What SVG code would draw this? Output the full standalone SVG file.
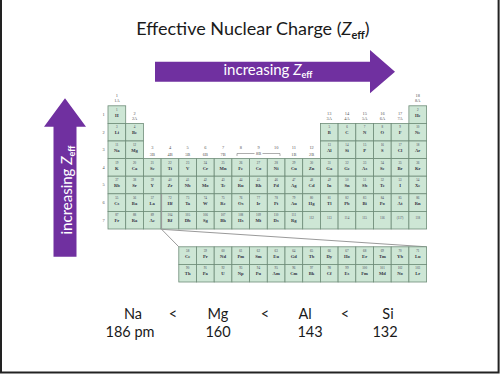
<svg xmlns="http://www.w3.org/2000/svg" xmlns:xlink="http://www.w3.org/1999/xlink" width="500" height="379" viewBox="0 0 500 379">
<style>
.c{fill:#cde6d5;stroke:#6e8c78;stroke-width:0.8}
.n{font-family:"Liberation Serif",serif;font-size:3.2px;fill:#445;text-anchor:middle}
.s{font-family:"Liberation Serif",serif;font-size:4.6px;font-weight:bold;fill:#334;text-anchor:middle}
.g{font-family:"Liberation Serif",serif;font-size:4.4px;fill:#555;text-anchor:middle}
.t{font-family:Lato,"Liberation Sans",sans-serif;fill:#1a1a1a}
.w{font-family:Lato,"Liberation Sans",sans-serif;fill:#ffffff;font-size:15px}
.arrow{fill:#7030a0}
.conn{fill:none;stroke:#9a9a9a;stroke-width:1}
</style>
<defs>
<rect id="c" class="c" width="17.7" height="17.6"/>
</defs>
<rect width="500" height="379" fill="#ffffff"/>
<path d="M1,0 V372.5 H498.6 V0" fill="none" stroke="#222" stroke-width="2"/>

<g id="title">
<text class="t" x="253" y="35" font-size="18" text-anchor="middle">Effective Nuclear Charge (<tspan font-style="italic">Z</tspan><tspan font-size="11" font-weight="bold" dy="4">eff</tspan><tspan dy="-4">)</tspan></text>
</g>

<g id="arrow-period">
<path class="arrow" d="M155,61.7 H370 V50 L395,71.7 L370,93.3 V81.7 H155 Z"/>
<text class="w" x="268" y="75" text-anchor="middle">increasing <tspan font-style="italic">Z</tspan><tspan font-size="9" font-weight="bold" dy="3">eff</tspan></text>
</g>

<g id="arrow-group">
<path class="arrow" d="M65,98.3 L86,126.7 H76.5 V256.7 H53.5 V126.7 H44 Z"/>
<text class="w" transform="translate(71.5,190) rotate(-90)" text-anchor="middle">increasing <tspan font-style="italic">Z</tspan><tspan font-size="9" font-weight="bold" dy="3">eff</tspan></text>
</g>

<g id="labels">
<text class="g" x="116.9" y="97">1</text><text class="g" x="116.9" y="102">1A</text>
<text class="g" x="134.6" y="114.5">2</text><text class="g" x="134.6" y="119.5">2A</text>
<text class="g" x="152.3" y="149">3</text><text class="g" x="152.3" y="155.5">3B</text>
<text class="g" x="170" y="149">4</text><text class="g" x="170" y="155.5">4B</text>
<text class="g" x="187.7" y="149">5</text><text class="g" x="187.7" y="155.5">5B</text>
<text class="g" x="205.4" y="149">6</text><text class="g" x="205.4" y="155.5">6B</text>
<text class="g" x="223.1" y="149">7</text><text class="g" x="223.1" y="155.5">7B</text>
<text class="g" x="240.8" y="149">8</text><text class="g" x="258.5" y="149">9</text><text class="g" x="276.2" y="149">10</text>
<path d="M237,156 V153.5 H254.5 M262.5,153.5 H280 V156" fill="none" stroke="#777" stroke-width="0.6"/>
<text class="g" x="258.5" y="155.2">8B</text>
<text class="g" x="293.9" y="149">11</text><text class="g" x="293.9" y="155.5">1B</text>
<text class="g" x="311.6" y="149">12</text><text class="g" x="311.6" y="155.5">2B</text>
<text class="g" x="329.3" y="114.5">13</text><text class="g" x="329.3" y="119.5">3A</text>
<text class="g" x="347" y="114.5">14</text><text class="g" x="347" y="119.5">4A</text>
<text class="g" x="364.7" y="114.5">15</text><text class="g" x="364.7" y="119.5">5A</text>
<text class="g" x="382.4" y="114.5">16</text><text class="g" x="382.4" y="119.5">6A</text>
<text class="g" x="400.1" y="114.5">17</text><text class="g" x="400.1" y="119.5">7A</text>
<text class="g" x="417.8" y="97">18</text><text class="g" x="417.8" y="102">8A</text>
<text class="g" x="103.5" y="116">1</text>
<text class="g" x="103.5" y="133.6">2</text>
<text class="g" x="103.5" y="151.2">3</text>
<text class="g" x="103.5" y="168.8">4</text>
<text class="g" x="103.5" y="186.4">5</text>
<text class="g" x="103.5" y="204">6</text>
<text class="g" x="103.5" y="221.6">7</text>
</g>

<g id="main-table">
<g transform="translate(108,105.8)"><use href="#c"/><text class="n" x="8.85" y="5">1</text><text class="s" x="8.85" y="11">H</text></g>
<g transform="translate(408.9,105.8)"><use href="#c"/><text class="n" x="8.85" y="5">2</text><text class="s" x="8.85" y="11">He</text></g>

<g transform="translate(108,123.4)"><use href="#c"/><text class="n" x="8.85" y="5">3</text><text class="s" x="8.85" y="11">Li</text></g>
<g transform="translate(125.7,123.4)"><use href="#c"/><text class="n" x="8.85" y="5">4</text><text class="s" x="8.85" y="11">Be</text></g>
<g transform="translate(320.4,123.4)"><use href="#c"/><text class="n" x="8.85" y="5">5</text><text class="s" x="8.85" y="11">B</text></g>
<g transform="translate(338.1,123.4)"><use href="#c"/><text class="n" x="8.85" y="5">6</text><text class="s" x="8.85" y="11">C</text></g>
<g transform="translate(355.8,123.4)"><use href="#c"/><text class="n" x="8.85" y="5">7</text><text class="s" x="8.85" y="11">N</text></g>
<g transform="translate(373.5,123.4)"><use href="#c"/><text class="n" x="8.85" y="5">8</text><text class="s" x="8.85" y="11">O</text></g>
<g transform="translate(391.2,123.4)"><use href="#c"/><text class="n" x="8.85" y="5">9</text><text class="s" x="8.85" y="11">F</text></g>
<g transform="translate(408.9,123.4)"><use href="#c"/><text class="n" x="8.85" y="5">10</text><text class="s" x="8.85" y="11">Ne</text></g>

<g transform="translate(108,141)"><use href="#c"/><text class="n" x="8.85" y="5">11</text><text class="s" x="8.85" y="11">Na</text></g>
<g transform="translate(125.7,141)"><use href="#c"/><text class="n" x="8.85" y="5">12</text><text class="s" x="8.85" y="11">Mg</text></g>
<g transform="translate(320.4,141)"><use href="#c"/><text class="n" x="8.85" y="5">13</text><text class="s" x="8.85" y="11">Al</text></g>
<g transform="translate(338.1,141)"><use href="#c"/><text class="n" x="8.85" y="5">14</text><text class="s" x="8.85" y="11">Si</text></g>
<g transform="translate(355.8,141)"><use href="#c"/><text class="n" x="8.85" y="5">15</text><text class="s" x="8.85" y="11">P</text></g>
<g transform="translate(373.5,141)"><use href="#c"/><text class="n" x="8.85" y="5">16</text><text class="s" x="8.85" y="11">S</text></g>
<g transform="translate(391.2,141)"><use href="#c"/><text class="n" x="8.85" y="5">17</text><text class="s" x="8.85" y="11">Cl</text></g>
<g transform="translate(408.9,141)"><use href="#c"/><text class="n" x="8.85" y="5">18</text><text class="s" x="8.85" y="11">Ar</text></g>

<g transform="translate(108,158.6)"><use href="#c"/><text class="n" x="8.85" y="5">19</text><text class="s" x="8.85" y="11">K</text></g>
<g transform="translate(125.7,158.6)"><use href="#c"/><text class="n" x="8.85" y="5">20</text><text class="s" x="8.85" y="11">Ca</text></g>
<g transform="translate(143.4,158.6)"><use href="#c"/><text class="n" x="8.85" y="5">21</text><text class="s" x="8.85" y="11">Sc</text></g>
<g transform="translate(161.1,158.6)"><use href="#c"/><text class="n" x="8.85" y="5">22</text><text class="s" x="8.85" y="11">Ti</text></g>
<g transform="translate(178.8,158.6)"><use href="#c"/><text class="n" x="8.85" y="5">23</text><text class="s" x="8.85" y="11">V</text></g>
<g transform="translate(196.5,158.6)"><use href="#c"/><text class="n" x="8.85" y="5">24</text><text class="s" x="8.85" y="11">Cr</text></g>
<g transform="translate(214.2,158.6)"><use href="#c"/><text class="n" x="8.85" y="5">25</text><text class="s" x="8.85" y="11">Mn</text></g>
<g transform="translate(231.9,158.6)"><use href="#c"/><text class="n" x="8.85" y="5">26</text><text class="s" x="8.85" y="11">Fe</text></g>
<g transform="translate(249.6,158.6)"><use href="#c"/><text class="n" x="8.85" y="5">27</text><text class="s" x="8.85" y="11">Co</text></g>
<g transform="translate(267.3,158.6)"><use href="#c"/><text class="n" x="8.85" y="5">28</text><text class="s" x="8.85" y="11">Ni</text></g>
<g transform="translate(285,158.6)"><use href="#c"/><text class="n" x="8.85" y="5">29</text><text class="s" x="8.85" y="11">Cu</text></g>
<g transform="translate(302.7,158.6)"><use href="#c"/><text class="n" x="8.85" y="5">30</text><text class="s" x="8.85" y="11">Zn</text></g>
<g transform="translate(320.4,158.6)"><use href="#c"/><text class="n" x="8.85" y="5">31</text><text class="s" x="8.85" y="11">Ga</text></g>
<g transform="translate(338.1,158.6)"><use href="#c"/><text class="n" x="8.85" y="5">32</text><text class="s" x="8.85" y="11">Ge</text></g>
<g transform="translate(355.8,158.6)"><use href="#c"/><text class="n" x="8.85" y="5">33</text><text class="s" x="8.85" y="11">As</text></g>
<g transform="translate(373.5,158.6)"><use href="#c"/><text class="n" x="8.85" y="5">34</text><text class="s" x="8.85" y="11">Se</text></g>
<g transform="translate(391.2,158.6)"><use href="#c"/><text class="n" x="8.85" y="5">35</text><text class="s" x="8.85" y="11">Br</text></g>
<g transform="translate(408.9,158.6)"><use href="#c"/><text class="n" x="8.85" y="5">36</text><text class="s" x="8.85" y="11">Kr</text></g>

<g transform="translate(108,176.2)"><use href="#c"/><text class="n" x="8.85" y="5">37</text><text class="s" x="8.85" y="11">Rb</text></g>
<g transform="translate(125.7,176.2)"><use href="#c"/><text class="n" x="8.85" y="5">38</text><text class="s" x="8.85" y="11">Sr</text></g>
<g transform="translate(143.4,176.2)"><use href="#c"/><text class="n" x="8.85" y="5">39</text><text class="s" x="8.85" y="11">Y</text></g>
<g transform="translate(161.1,176.2)"><use href="#c"/><text class="n" x="8.85" y="5">40</text><text class="s" x="8.85" y="11">Zr</text></g>
<g transform="translate(178.8,176.2)"><use href="#c"/><text class="n" x="8.85" y="5">41</text><text class="s" x="8.85" y="11">Nb</text></g>
<g transform="translate(196.5,176.2)"><use href="#c"/><text class="n" x="8.85" y="5">42</text><text class="s" x="8.85" y="11">Mo</text></g>
<g transform="translate(214.2,176.2)"><use href="#c"/><text class="n" x="8.85" y="5">43</text><text class="s" x="8.85" y="11">Tc</text></g>
<g transform="translate(231.9,176.2)"><use href="#c"/><text class="n" x="8.85" y="5">44</text><text class="s" x="8.85" y="11">Ru</text></g>
<g transform="translate(249.6,176.2)"><use href="#c"/><text class="n" x="8.85" y="5">45</text><text class="s" x="8.85" y="11">Rh</text></g>
<g transform="translate(267.3,176.2)"><use href="#c"/><text class="n" x="8.85" y="5">46</text><text class="s" x="8.85" y="11">Pd</text></g>
<g transform="translate(285,176.2)"><use href="#c"/><text class="n" x="8.85" y="5">47</text><text class="s" x="8.85" y="11">Ag</text></g>
<g transform="translate(302.7,176.2)"><use href="#c"/><text class="n" x="8.85" y="5">48</text><text class="s" x="8.85" y="11">Cd</text></g>
<g transform="translate(320.4,176.2)"><use href="#c"/><text class="n" x="8.85" y="5">49</text><text class="s" x="8.85" y="11">In</text></g>
<g transform="translate(338.1,176.2)"><use href="#c"/><text class="n" x="8.85" y="5">50</text><text class="s" x="8.85" y="11">Sn</text></g>
<g transform="translate(355.8,176.2)"><use href="#c"/><text class="n" x="8.85" y="5">51</text><text class="s" x="8.85" y="11">Sb</text></g>
<g transform="translate(373.5,176.2)"><use href="#c"/><text class="n" x="8.85" y="5">52</text><text class="s" x="8.85" y="11">Te</text></g>
<g transform="translate(391.2,176.2)"><use href="#c"/><text class="n" x="8.85" y="5">53</text><text class="s" x="8.85" y="11">I</text></g>
<g transform="translate(408.9,176.2)"><use href="#c"/><text class="n" x="8.85" y="5">54</text><text class="s" x="8.85" y="11">Xe</text></g>

<g transform="translate(108,193.8)"><use href="#c"/><text class="n" x="8.85" y="5">55</text><text class="s" x="8.85" y="11">Cs</text></g>
<g transform="translate(125.7,193.8)"><use href="#c"/><text class="n" x="8.85" y="5">56</text><text class="s" x="8.85" y="11">Ba</text></g>
<g transform="translate(143.4,193.8)"><use href="#c"/><text class="n" x="8.85" y="5">57</text><text class="s" x="8.85" y="11">La</text></g>
<g transform="translate(161.1,193.8)"><use href="#c"/><text class="n" x="8.85" y="5">72</text><text class="s" x="8.85" y="11">Hf</text></g>
<g transform="translate(178.8,193.8)"><use href="#c"/><text class="n" x="8.85" y="5">73</text><text class="s" x="8.85" y="11">Ta</text></g>
<g transform="translate(196.5,193.8)"><use href="#c"/><text class="n" x="8.85" y="5">74</text><text class="s" x="8.85" y="11">W</text></g>
<g transform="translate(214.2,193.8)"><use href="#c"/><text class="n" x="8.85" y="5">75</text><text class="s" x="8.85" y="11">Re</text></g>
<g transform="translate(231.9,193.8)"><use href="#c"/><text class="n" x="8.85" y="5">76</text><text class="s" x="8.85" y="11">Os</text></g>
<g transform="translate(249.6,193.8)"><use href="#c"/><text class="n" x="8.85" y="5">77</text><text class="s" x="8.85" y="11">Ir</text></g>
<g transform="translate(267.3,193.8)"><use href="#c"/><text class="n" x="8.85" y="5">78</text><text class="s" x="8.85" y="11">Pt</text></g>
<g transform="translate(285,193.8)"><use href="#c"/><text class="n" x="8.85" y="5">79</text><text class="s" x="8.85" y="11">Au</text></g>
<g transform="translate(302.7,193.8)"><use href="#c"/><text class="n" x="8.85" y="5">80</text><text class="s" x="8.85" y="11">Hg</text></g>
<g transform="translate(320.4,193.8)"><use href="#c"/><text class="n" x="8.85" y="5">81</text><text class="s" x="8.85" y="11">Tl</text></g>
<g transform="translate(338.1,193.8)"><use href="#c"/><text class="n" x="8.85" y="5">82</text><text class="s" x="8.85" y="11">Pb</text></g>
<g transform="translate(355.8,193.8)"><use href="#c"/><text class="n" x="8.85" y="5">83</text><text class="s" x="8.85" y="11">Bi</text></g>
<g transform="translate(373.5,193.8)"><use href="#c"/><text class="n" x="8.85" y="5">84</text><text class="s" x="8.85" y="11">Po</text></g>
<g transform="translate(391.2,193.8)"><use href="#c"/><text class="n" x="8.85" y="5">85</text><text class="s" x="8.85" y="11">At</text></g>
<g transform="translate(408.9,193.8)"><use href="#c"/><text class="n" x="8.85" y="5">86</text><text class="s" x="8.85" y="11">Rn</text></g>

<g transform="translate(108,211.4)"><use href="#c"/><text class="n" x="8.85" y="5">87</text><text class="s" x="8.85" y="11">Fr</text></g>
<g transform="translate(125.7,211.4)"><use href="#c"/><text class="n" x="8.85" y="5">88</text><text class="s" x="8.85" y="11">Ra</text></g>
<g transform="translate(143.4,211.4)"><use href="#c"/><text class="n" x="8.85" y="5">89</text><text class="s" x="8.85" y="11">Ac</text></g>
<g transform="translate(161.1,211.4)"><use href="#c"/><text class="n" x="8.85" y="5">104</text><text class="s" x="8.85" y="11">Rf</text></g>
<g transform="translate(178.8,211.4)"><use href="#c"/><text class="n" x="8.85" y="5">105</text><text class="s" x="8.85" y="11">Db</text></g>
<g transform="translate(196.5,211.4)"><use href="#c"/><text class="n" x="8.85" y="5">106</text><text class="s" x="8.85" y="11">Sg</text></g>
<g transform="translate(214.2,211.4)"><use href="#c"/><text class="n" x="8.85" y="5">107</text><text class="s" x="8.85" y="11">Bh</text></g>
<g transform="translate(231.9,211.4)"><use href="#c"/><text class="n" x="8.85" y="5">108</text><text class="s" x="8.85" y="11">Hs</text></g>
<g transform="translate(249.6,211.4)"><use href="#c"/><text class="n" x="8.85" y="5">109</text><text class="s" x="8.85" y="11">Mt</text></g>
<g transform="translate(267.3,211.4)"><use href="#c"/><text class="n" x="8.85" y="5">110</text><text class="s" x="8.85" y="11">Ds</text></g>
<g transform="translate(285,211.4)"><use href="#c"/><text class="n" x="8.85" y="5">111</text><text class="s" x="8.85" y="11">Rg</text></g>
<g transform="translate(302.7,211.4)"><use href="#c"/><text class="n" x="8.85" y="8">112</text></g>
<g transform="translate(320.4,211.4)"><use href="#c"/><text class="n" x="8.85" y="8">113</text></g>
<g transform="translate(338.1,211.4)"><use href="#c"/><text class="n" x="8.85" y="8">114</text></g>
<g transform="translate(355.8,211.4)"><use href="#c"/><text class="n" x="8.85" y="8">115</text></g>
<g transform="translate(373.5,211.4)"><use href="#c"/><text class="n" x="8.85" y="8">116</text></g>
<g transform="translate(391.2,211.4)"><use href="#c"/><text class="n" x="8.85" y="8">(117)</text></g>
<g transform="translate(408.9,211.4)"><use href="#c"/><text class="n" x="8.85" y="8">118</text></g>
</g>

<g id="connectors">
<path class="conn" d="M161.6,194 V229.3 L178.8,246.8"/>
<path class="conn" d="M161.6,229.3 L426.6,246.8"/>
</g>

<g id="f-block">
<g transform="translate(178.8,246.8)"><use href="#c"/><text class="n" x="8.85" y="5">58</text><text class="s" x="8.85" y="11">Ce</text></g>
<g transform="translate(196.5,246.8)"><use href="#c"/><text class="n" x="8.85" y="5">59</text><text class="s" x="8.85" y="11">Pr</text></g>
<g transform="translate(214.2,246.8)"><use href="#c"/><text class="n" x="8.85" y="5">60</text><text class="s" x="8.85" y="11">Nd</text></g>
<g transform="translate(231.9,246.8)"><use href="#c"/><text class="n" x="8.85" y="5">61</text><text class="s" x="8.85" y="11">Pm</text></g>
<g transform="translate(249.6,246.8)"><use href="#c"/><text class="n" x="8.85" y="5">62</text><text class="s" x="8.85" y="11">Sm</text></g>
<g transform="translate(267.3,246.8)"><use href="#c"/><text class="n" x="8.85" y="5">63</text><text class="s" x="8.85" y="11">Eu</text></g>
<g transform="translate(285,246.8)"><use href="#c"/><text class="n" x="8.85" y="5">64</text><text class="s" x="8.85" y="11">Gd</text></g>
<g transform="translate(302.7,246.8)"><use href="#c"/><text class="n" x="8.85" y="5">65</text><text class="s" x="8.85" y="11">Tb</text></g>
<g transform="translate(320.4,246.8)"><use href="#c"/><text class="n" x="8.85" y="5">66</text><text class="s" x="8.85" y="11">Dy</text></g>
<g transform="translate(338.1,246.8)"><use href="#c"/><text class="n" x="8.85" y="5">67</text><text class="s" x="8.85" y="11">Ho</text></g>
<g transform="translate(355.8,246.8)"><use href="#c"/><text class="n" x="8.85" y="5">68</text><text class="s" x="8.85" y="11">Er</text></g>
<g transform="translate(373.5,246.8)"><use href="#c"/><text class="n" x="8.85" y="5">69</text><text class="s" x="8.85" y="11">Tm</text></g>
<g transform="translate(391.2,246.8)"><use href="#c"/><text class="n" x="8.85" y="5">70</text><text class="s" x="8.85" y="11">Yb</text></g>
<g transform="translate(408.9,246.8)"><use href="#c"/><text class="n" x="8.85" y="5">71</text><text class="s" x="8.85" y="11">Lu</text></g>

<g transform="translate(178.8,264.4)"><use href="#c"/><text class="n" x="8.85" y="5">90</text><text class="s" x="8.85" y="11">Th</text></g>
<g transform="translate(196.5,264.4)"><use href="#c"/><text class="n" x="8.85" y="5">91</text><text class="s" x="8.85" y="11">Pa</text></g>
<g transform="translate(214.2,264.4)"><use href="#c"/><text class="n" x="8.85" y="5">92</text><text class="s" x="8.85" y="11">U</text></g>
<g transform="translate(231.9,264.4)"><use href="#c"/><text class="n" x="8.85" y="5">93</text><text class="s" x="8.85" y="11">Np</text></g>
<g transform="translate(249.6,264.4)"><use href="#c"/><text class="n" x="8.85" y="5">94</text><text class="s" x="8.85" y="11">Pu</text></g>
<g transform="translate(267.3,264.4)"><use href="#c"/><text class="n" x="8.85" y="5">95</text><text class="s" x="8.85" y="11">Am</text></g>
<g transform="translate(285,264.4)"><use href="#c"/><text class="n" x="8.85" y="5">96</text><text class="s" x="8.85" y="11">Cm</text></g>
<g transform="translate(302.7,264.4)"><use href="#c"/><text class="n" x="8.85" y="5">97</text><text class="s" x="8.85" y="11">Bk</text></g>
<g transform="translate(320.4,264.4)"><use href="#c"/><text class="n" x="8.85" y="5">98</text><text class="s" x="8.85" y="11">Cf</text></g>
<g transform="translate(338.1,264.4)"><use href="#c"/><text class="n" x="8.85" y="5">99</text><text class="s" x="8.85" y="11">Es</text></g>
<g transform="translate(355.8,264.4)"><use href="#c"/><text class="n" x="8.85" y="5">100</text><text class="s" x="8.85" y="11">Fm</text></g>
<g transform="translate(373.5,264.4)"><use href="#c"/><text class="n" x="8.85" y="5">101</text><text class="s" x="8.85" y="11">Md</text></g>
<g transform="translate(391.2,264.4)"><use href="#c"/><text class="n" x="8.85" y="5">102</text><text class="s" x="8.85" y="11">No</text></g>
<g transform="translate(408.9,264.4)"><use href="#c"/><text class="n" x="8.85" y="5">103</text><text class="s" x="8.85" y="11">Lr</text></g>
</g>

<g id="comparison" class="t" font-size="14.5" text-anchor="middle">
<text x="133" y="318.5">Na</text>
<text x="173" y="318.5">&lt;</text>
<text x="218" y="318.5">Mg</text>
<text x="265" y="318.5">&lt;</text>
<text x="305" y="318.5">Al</text>
<text x="345" y="318.5">&lt;</text>
<text x="388" y="318.5">Si</text>
<text x="130" y="337">186 pm</text>
<text x="218" y="337">160</text>
<text x="310" y="337">143</text>
<text x="385" y="337">132</text>
</g>
</svg>
